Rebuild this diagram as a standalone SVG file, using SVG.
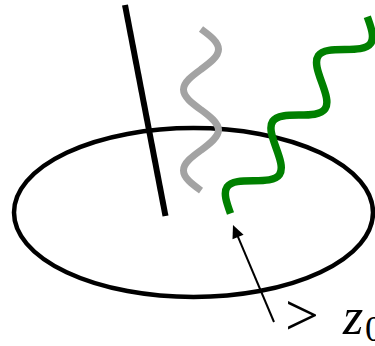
<svg xmlns="http://www.w3.org/2000/svg" width="375" height="346" viewBox="0 0 375 346">
  <style>
    .snake { fill: none; stroke-linecap: butt; stroke-linejoin: round; }
    .gray { stroke: #a3a3a3; stroke-width: 7; }
    .green { stroke: #008000; stroke-width: 7.5; }
    .math { font-family: "Liberation Serif", "DejaVu Serif", serif; fill: #000; }
  </style>
  <defs>
    <marker id="head" markerUnits="userSpaceOnUse" viewBox="-6 -7 15 14" markerWidth="15" markerHeight="14" refX="0" refY="0" orient="auto">
      <path d="M8,0 L-5,-6 L-5,6 Z" fill="#000"/>
    </marker>
  </defs>
  <g id="disk">
    <ellipse cx="193.5" cy="212.5" rx="179.5" ry="84.5" fill="none" stroke="#000" stroke-width="4.5"/>
  </g>
  <g id="rod">
    <line x1="125" y1="5" x2="165.5" y2="216" stroke="#000" stroke-width="6"/>
  </g>
  <g id="gray-wave">
    <path class="snake gray" transform="matrix(0,1,1,0,201,29)" d="M0,0 C6.6,9 12.9,17.5 20.2,17.5 S33.8,9 40.4,0 S53.2,-17.5 60.6,-17.5 S74.2,-9 80.8,0 S93.9,17.5 101,17.5 S114.6,9 121.2,0 S134,-17.5 141.4,-17.5 S155,-9 161.6,0"/>
  </g>
  <g id="green-wave">
    <path class="snake green" transform="matrix(0.57,-0.82,-0.82,-0.57,230.5,213.5)" d="M0,0 C6.52,9.22 12.77,18 20,18 S33.48,9.22 40,0 S52.77,-18 60,-18 S73.48,-9.22 80,0 S92.77,18 100,18 S113.48,9.22 120,0 S132.77,-18 140,-18 S153.48,-9.22 160,0 S172.77,18 180,18 S193.48,9.22 200,0 S212.77,-18 220,-18 S233.48,-9.22 240,0"/>
  </g>
  <g id="connectors">
    <line x1="274" y1="322" x2="236.1" y2="232.4" stroke="#000" stroke-width="2" marker-end="url(#head)"/>
  </g>
  <g id="label">
    <text class="math" x="285" y="335" font-size="60">&gt;</text>
    <text class="math" x="343" y="334" font-size="52" font-style="italic">z</text>
    <text class="math" x="365" y="341" font-size="36">0</text>
  </g>
</svg>
